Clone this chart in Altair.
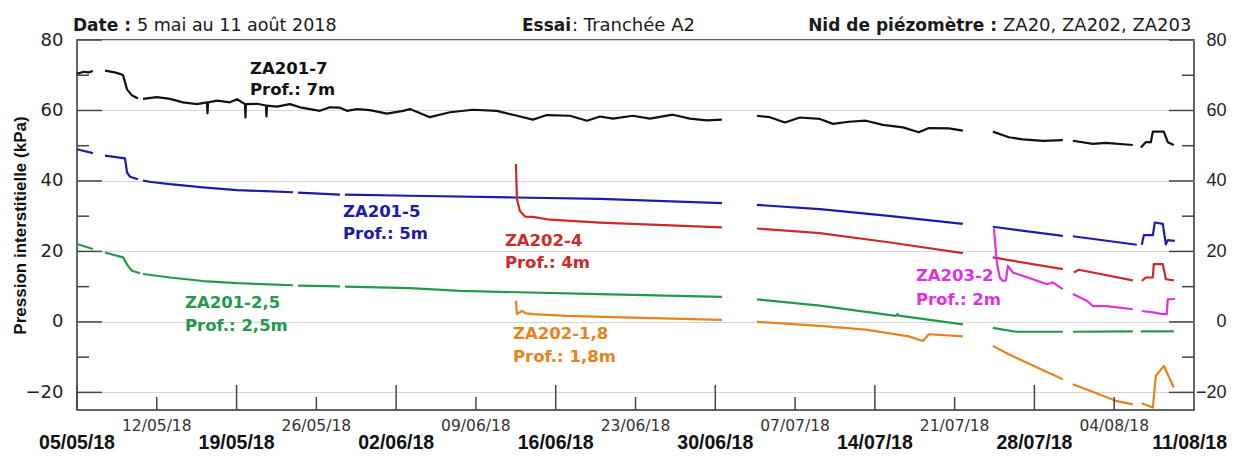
import altair as alt
import pandas as pd

START = pd.Timestamp("2018-05-05 00:00")
END = pd.Timestamp("2018-08-11 00:00")

# ---- series data: days since 05/05/18, None = gap in the record ----
za201_7_days = [0, 0.6, 1.0, 1.4, None,
                2.46, 3.3, 3.77, 4.04, 4.39, 4.82, 5.35, None,
                5.79, 7.02, 8.16, 9.3, 10.53, 11.4, 11.45, 11.5, 12.28, 13.42, 14.04, 14.74, 14.78, 14.82,
                15.79, 16.58, 16.62, 16.67, 17.54, 18.68, 19.56, 20.44, 21.32, 22.19, 23.07, 23.68, 24.56,
                25.7, 27.19, 28.6, 29.21, 30.96, 32.72, 34.74, 36.84, 38.6, 40.0, 41.23, 43.25, 44.74,
                45.88, 47.02, 48.77, 50.26, 52.28, 53.77, 55.26, 56.58, None,
                59.65, 60.79, 62.11, 63.42, 65.18, 66.32, 67.72, 69.21, 70.7, 72.46, 73.86, 74.74, 76.49, 77.72, None,
                80.35, 81.75, 82.98, 84.74, 86.49, None,
                87.37, 89.12, 90.26, 92.63, None,
                93.33, 93.77, 94.21, 94.39, 95.35, 95.7, 96.23]
za201_7_kpa = [70.4, 71.0, 70.8, 71.2, None,
               71.3, 70.8, 70.4, 70.0, 66.0, 64.3, 63.4, None,
               63.3, 63.8, 63.3, 62.3, 61.8, 62.3, 59.2, 62.3, 62.8, 62.3, 63.2, 61.8, 58.0, 61.8,
               61.9, 61.4, 58.3, 61.4, 61.1, 61.8, 60.9, 60.4, 59.9, 60.9, 60.8, 59.9, 60.4,
               60.1, 59.1, 59.9, 60.4, 58.1, 59.5, 60.2, 59.9, 58.5, 57.4, 58.7, 58.5, 57.1,
               58.3, 57.7, 58.5, 57.7, 58.8, 57.7, 57.2, 57.4, None,
               58.5, 58.1, 56.6, 58.0, 57.6, 56.2, 56.8, 57.1, 55.9, 55.2, 53.8, 55.0, 54.9, 54.3, None,
               54.0, 52.4, 51.8, 51.4, 51.6, None,
               51.4, 50.5, 50.8, 50.2, None,
               49.5, 51.0, 51.0, 54.0, 54.0, 51.0, 50.2]

za201_5_days = [0, 1.4, None, 2.46, 4.21, 4.39, 4.65, 5.35, None,
                5.79, 6.5, 8.16, 11.05, 14.04, 16.5, 18.95, None, 19.39, 23.07, None,
                23.51, 29.21, 38.51, 45.88, 56.58, None, 59.65, 65.18, 71.2, 77.72, None,
                80.35, 86.49, None, 87.37, 92.98, None,
                93.42, 93.6, 94.39, 94.56, 95.26, 95.53, 95.7, 96.32]
za201_5_kpa = [49.0, 47.9, None, 47.2, 46.4, 42.4, 41.2, 40.5, None,
               40.1, 39.7, 39.1, 38.2, 37.4, 37.1, 36.8, None, 36.7, 36.1, None,
               36.1, 35.8, 35.3, 34.9, 33.7, None, 33.2, 32.0, 30.1, 27.8, None,
               27.0, 24.4, None, 24.3, 21.9, None,
               21.9, 24.6, 24.6, 28.2, 27.8, 22.0, 23.2, 23.0]

za202_4_days = [38.51, 38.6, 38.86, 39.3, 40.0, 41.49, 45.88, 56.58, None,
                59.65, 65.18, 71.2, 77.72, None, 80.35, 86.49, None,
                87.46, 87.89, 92.63, None, 93.42, 93.77, 94.39, 94.47, 95.26, 95.53, 96.23]
za202_4_kpa = [44.8, 34.9, 31.5, 29.9, 29.8, 29.0, 28.2, 26.8, None,
               26.5, 25.2, 22.6, 19.5, None, 18.3, 15.0, None,
               14.0, 14.8, 11.8, None, 11.6, 12.6, 12.6, 16.4, 16.4, 12.1, 11.8]

za201_25_days = [0, 1.4, None, 2.46, 4.04, 4.47, 4.82, 5.53, None,
                 5.79, 8.16, 11.05, 14.04, 18.95, None, 19.39, 23.07, None,
                 23.51, 29.21, 33.6, 45.88, 56.58, None,
                 59.65, 65.18, 71.84, 72.0, 72.1, 77.72, None,
                 80.35, 82.37, 86.49, None, 87.37, 92.63, None, 93.33, 96.23]
za201_25_kpa = [22.1, 20.7, None, 19.7, 18.3, 15.9, 14.5, 13.8, None,
                13.6, 12.6, 11.6, 11.0, 10.4, None, 10.3, 10.1, None,
                10.0, 9.6, 8.8, 7.9, 7.1, None,
                6.4, 4.6, 1.7, 2.2, 1.8, -0.7, None,
                -1.7, -2.8, -2.8, None, -2.8, -2.7, None, -2.7, -2.7]

za202_18_days = [38.51, 38.6, 39.04, 39.4, 40.0, 42.98, 48.77, 56.58, None,
                 59.65, 65.18, 69.2, 72.98, 74.21, 74.74, 77.72, None,
                 80.35, 81.75, 86.49, None, 87.37, 91.14, 92.63, None,
                 93.42, 94.39, 94.65, 95.35, 96.23]
za202_18_kpa = [6.0, 2.2, 3.1, 2.4, 2.2, 1.7, 1.2, 0.6, None,
                0.0, -1.1, -2.2, -4.1, -5.4, -3.5, -4.1, None,
                -6.8, -9.2, -16.3, None, -17.7, -22.4, -23.4, None,
                -23.1, -24.3, -15.3, -12.5, -18.6]

za203_2_days = [80.45, 80.7, 80.96, 81.23, 81.5, 81.67, 82.11, 83.86, 85.09, 85.61, 86.49, None,
                87.37, 88.6, 89.12, 90.35, 92.63, None,
                93.42, 94.39, 95.26, 95.61, 95.7, 96.32]
za203_2_kpa = [26.5, 16.9, 12.6, 11.6, 11.8, 15.9, 14.0, 12.1, 10.7, 11.2, 9.3, None,
               7.9, 6.0, 4.5, 4.5, 3.6, None,
               3.1, 2.7, 2.2, 2.2, 6.4, 6.5]

series_names = ["ZA201-7", "ZA201-5", "ZA202-4", "ZA201-2,5", "ZA202-1,8", "ZA203-2"]
series_colors = ["#111111", "#1c1ca8", "#cc2a2a", "#22994a", "#e8821e", "#dd33dd"]
series_days = [za201_7_days, za201_5_days, za202_4_days, za201_25_days, za202_18_days, za203_2_days]
series_kpa = [za201_7_kpa, za201_5_kpa, za202_4_kpa, za201_25_kpa, za202_18_kpa, za203_2_kpa]

# ---- annotation data ----
label_series = ["ZA201-7", "ZA201-7", "ZA201-5", "ZA201-5", "ZA202-4", "ZA202-4",
                "ZA201-2,5", "ZA201-2,5", "ZA202-1,8", "ZA202-1,8", "ZA203-2", "ZA203-2"]
label_text = ["ZA201-7", "Prof.: 7m", "ZA201-5", "Prof.: 5m", "ZA202-4", "Prof.: 4m",
              "ZA201-2,5", "Prof.: 2,5m", "ZA202-1,8", "Prof.: 1,8m", "ZA203-2", "Prof.: 2m"]
label_days = [15.18, 15.18, 23.33, 23.33, 37.54, 37.54, 9.47, 9.47, 38.25, 38.25, 73.6, 73.6]
label_kpa = [70.4, 64.4, 29.7, 23.5, 21.6, 15.3, 3.9, -2.6, -4.9, -11.4, 11.5, 4.9]

y_major = [-20, 0, 20, 40, 60, 80]
y_minor = [-10, 10, 30, 50, 70]
x_major_dates = ["2018-05-05", "2018-05-19", "2018-06-02", "2018-06-16", "2018-06-30",
                 "2018-07-14", "2018-07-28"]
x_last_date = ["2018-08-11"]
x_minor_dates = ["2018-05-12", "2018-05-26", "2018-06-09", "2018-06-23", "2018-07-07",
                 "2018-07-21", "2018-08-04"]

# ---- build tables ----
rows = []
for name, days, vals in zip(series_names, series_days, series_kpa):
    seg = 0
    for d, v in zip(days, vals):
        if d is None or v is None:
            seg += 1
            continue
        rows.append({"date": START + pd.Timedelta(days=d), "kpa": v,
                     "series": name, "seg": f"{name}#{seg}"})
lines_df = pd.DataFrame(rows)

labels_df = pd.DataFrame({
    "date": [START + pd.Timedelta(days=d) for d in label_days],
    "kpa": label_kpa, "text": label_text, "series": label_series})

PLOT_W, PLOT_H = 1117, 370
xscale = alt.Scale(domain=[START.isoformat(), END.isoformat()], nice=False)
yscale = alt.Scale(domain=[-25, 80], nice=False, zero=False)
cscale = alt.Scale(domain=series_names, range=series_colors)
X = lambda: alt.X("date:T", scale=xscale, axis=None)

left_axis = alt.Axis(orient="left", values=y_major, grid=True, gridColor="#d6d6d6", gridWidth=1,
                     ticks=False, domain=False, labelFont="DejaVu Sans", labelFontSize=18,
                     labelColor="#222", labelPadding=14,
                     title="Pression interstitielle (kPa)", titleFont="Liberation Sans",
                     titleFontSize=17, titleFontWeight="bold", titleColor="#111",
                     titleX=-52, titleBaseline="alphabetic")
right_axis = alt.Axis(orient="right", values=y_major, grid=False, ticks=False, domain=False,
                      labelFont="Liberation Sans", labelFontSize=18, labelColor="#222",
                      labelAlign="right", labelPadding=32, title=None)

TICK = "#444"
ymaj_df = pd.DataFrame({"v": y_major})
ymin_df = pd.DataFrame({"v": y_minor})
ytick_l_major = alt.Chart(ymaj_df).mark_rule(color=TICK, strokeWidth=1.5).encode(
    y=alt.Y("v:Q", scale=yscale, axis=None), x=alt.value(0), x2=alt.value(25))
ytick_l_minor = alt.Chart(ymin_df).mark_rule(color=TICK, strokeWidth=1.5).encode(
    y=alt.Y("v:Q", scale=yscale, axis=None), x=alt.value(0), x2=alt.value(12))
ytick_r_major = alt.Chart(ymaj_df).mark_rule(color=TICK, strokeWidth=1.5).encode(
    y=alt.Y("v:Q", scale=yscale, axis=right_axis), x=alt.value(PLOT_W - 25), x2=alt.value(PLOT_W))
ytick_r_minor = alt.Chart(ymin_df).mark_rule(color=TICK, strokeWidth=1.5).encode(
    y=alt.Y("v:Q", scale=yscale, axis=None), x=alt.value(PLOT_W - 12), x2=alt.value(PLOT_W))

xmaj_df = pd.DataFrame({"date": pd.to_datetime(x_major_dates)})
xlast_df = pd.DataFrame({"date": pd.to_datetime(x_last_date)})
xmin_df = pd.DataFrame({"date": pd.to_datetime(x_minor_dates)})
xtick_major = alt.Chart(xmaj_df).mark_rule(color=TICK, strokeWidth=1.5).encode(
    x=X(), y=alt.value(PLOT_H - 25), y2=alt.value(PLOT_H))
xtick_minor = alt.Chart(xmin_df).mark_rule(color=TICK, strokeWidth=1.5).encode(
    x=X(), y=alt.value(PLOT_H - 13), y2=alt.value(PLOT_H))

xlab_minor = alt.Chart(xmin_df).mark_text(
    align="center", baseline="alphabetic", font="DejaVu Sans", fontSize=15.5, color="#333").encode(
    x=X(), y=alt.value(391), text=alt.Text("date:T", format="%d/%m/%y"))
xlab_major = alt.Chart(xmaj_df).mark_text(
    align="center", baseline="alphabetic", font="Liberation Sans", fontWeight="bold",
    fontSize=19.5, color="#111").encode(
    x=X(), y=alt.value(409), text=alt.Text("date:T", format="%d/%m/%y"))
xlab_last = alt.Chart(xlast_df).mark_text(
    align="right", baseline="alphabetic", font="Liberation Sans", fontWeight="bold",
    fontSize=19.5, color="#111", dx=33).encode(
    x=X(), y=alt.value(409), text=alt.Text("date:T", format="%d/%m/%y"))

lines = alt.Chart(lines_df).mark_line(strokeWidth=2.2, strokeJoin="round").encode(
    x=X(),
    y=alt.Y("kpa:Q", scale=yscale, axis=left_axis),
    color=alt.Color("series:N", scale=cscale, legend=None),
    detail="seg:N")

labels = alt.Chart(labels_df).mark_text(
    align="left", baseline="alphabetic", font="DejaVu Sans", fontWeight="bold", fontSize=16.5).encode(
    x=X(), y=alt.Y("kpa:Q", scale=yscale, axis=None),
    color=alt.Color("series:N", scale=cscale, legend=None), text="text:N")


def header(txt, x, weight, align="left", size=17):
    return alt.Chart(pd.DataFrame({"t": [txt]})).mark_text(
        align=align, baseline="alphabetic", font="DejaVu Sans", fontWeight=weight,
        fontSize=size, color="#1a1a1a").encode(
        x=alt.value(x), y=alt.value(-9), text="t:N")


headers = [
    header("Date :", -4, "bold"),
    header("5 mai au 11 août 2018", 60, "normal", size=17.5),
    header("Essai", 445, "bold"),
    header(": Tranchée A2", 495, "normal", size=18),
    header("Nid de piézomètre :", 920, "bold", align="right"),
    header("ZA20, ZA202, ZA203", 926, "normal", size=18),
]

chart = alt.layer(
    lines, ytick_l_major, ytick_l_minor, ytick_r_major, ytick_r_minor,
    xtick_major, xtick_minor, xlab_minor, xlab_major, xlab_last, labels, *headers
).resolve_scale(y="independent").properties(
    width=PLOT_W, height=PLOT_H,
    autosize=alt.AutoSizeParams(type="none"),
    padding={"left": 69, "top": 32, "right": 34, "bottom": 44},
).configure_view(stroke="#333", strokeWidth=1.5)

chart.save("out.html", embed_options={"renderer": "svg", "actions": False})
